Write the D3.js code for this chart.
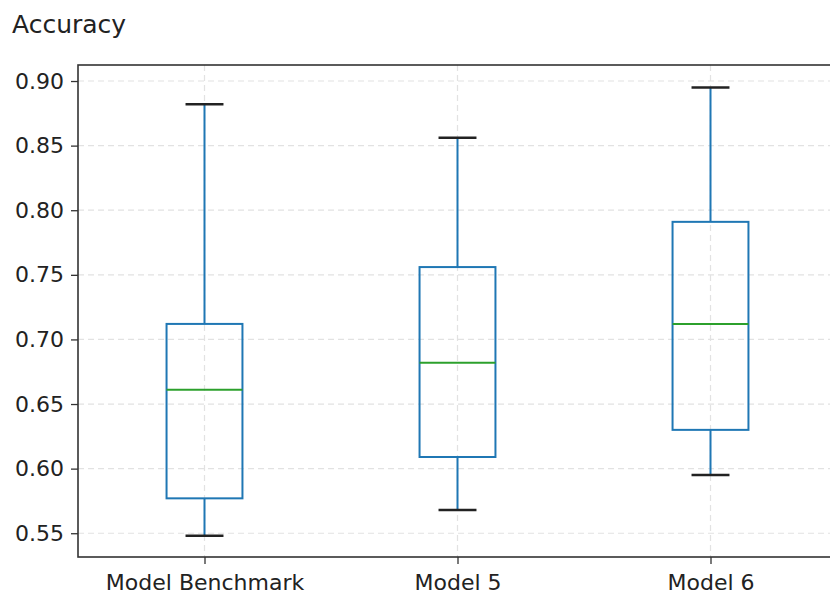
<!DOCTYPE html>
<html><head><meta charset="utf-8">
<script src="https://cdn.jsdelivr.net/npm/d3@7"></script>
<style>
html,body{margin:0;padding:0;background:#fff;overflow:hidden;}
text{font-family:"DejaVu Sans",sans-serif;fill:#222;}
</style></head>
<body>
<svg id="chart" width="830" height="599"></svg>
<script>
const categories = ["Model Benchmark", "Model 5", "Model 6"];
const whiskerLow  = [0.548, 0.568, 0.595];
const q1          = [0.577, 0.609, 0.630];
const median      = [0.661, 0.682, 0.712];
const q3          = [0.712, 0.756, 0.791];
const whiskerHigh = [0.882, 0.856, 0.895];
const yTicks = [0.55, 0.60, 0.65, 0.70, 0.75, 0.80, 0.85, 0.90];

const svg = d3.select("#chart");
const mLeft = 78, mRight = 837, mTop = 65, mBottom = 557;

const x = d3.scaleLinear().domain([0.5, 3.5]).range([mLeft, mRight]);
const y = d3.scaleLinear().domain([0.5316, 0.9124]).range([mBottom, mTop]);
const boxW = x(1.3) - x(1);
const capW = boxW / 2;

// grid
const grid = svg.append("g").attr("stroke", "#e2e2e2").attr("stroke-width", 1.2).attr("stroke-dasharray", "6,4");
yTicks.forEach(t => grid.append("line").attr("x1", mLeft).attr("x2", mRight).attr("y1", y(t)).attr("y2", y(t)));
categories.forEach((c, i) => grid.append("line").attr("x1", x(i + 1)).attr("x2", x(i + 1)).attr("y1", mTop).attr("y2", mBottom));

// boxes
const data = categories.map((c, i) => ({c, i, lo: whiskerLow[i], q1: q1[i], med: median[i], q3: q3[i], hi: whiskerHigh[i]}));
const g = svg.append("g");
data.forEach(d => {
  const cx = x(d.i + 1);
  g.append("line").attr("x1", cx).attr("x2", cx).attr("y1", y(d.q3)).attr("y2", y(d.hi)).attr("stroke", "#1f77b4").attr("stroke-width", 2);
  g.append("line").attr("x1", cx).attr("x2", cx).attr("y1", y(d.q1)).attr("y2", y(d.lo)).attr("stroke", "#1f77b4").attr("stroke-width", 2);
  g.append("rect").attr("x", cx - boxW / 2).attr("width", boxW).attr("y", y(d.q3)).attr("height", y(d.q1) - y(d.q3))
    .attr("fill", "none").attr("stroke", "#1f77b4").attr("stroke-width", 2);
  g.append("line").attr("x1", cx - boxW / 2).attr("x2", cx + boxW / 2).attr("y1", y(d.med)).attr("y2", y(d.med)).attr("stroke", "#2ca02c").attr("stroke-width", 2);
  [d.lo, d.hi].forEach(v => g.append("line").attr("x1", cx - capW / 2).attr("x2", cx + capW / 2).attr("y1", y(v)).attr("y2", y(v)).attr("stroke", "#222").attr("stroke-width", 2.5));
});

// axes
const yAxis = d3.axisLeft(y).tickValues(yTicks).tickFormat(d3.format(".2f")).tickSize(7).tickPadding(7);
const ya = svg.append("g").attr("transform", `translate(${mLeft},0)`).call(yAxis);
ya.select(".domain").remove();
ya.selectAll("line").attr("stroke", "#333").attr("stroke-width", 1.3);
ya.selectAll("text").style("font-size", "22px").attr("fill", "#222");

const xAxis = d3.axisBottom(x).tickValues([1, 2, 3]).tickFormat((d, i) => categories[i]).tickSize(7).tickPadding(10);
const xa = svg.append("g").attr("transform", `translate(0,${mBottom})`).call(xAxis);
xa.select(".domain").remove();
xa.selectAll("line").attr("stroke", "#333").attr("stroke-width", 1.3);
xa.selectAll("text").style("font-size", "22px").attr("fill", "#222");

// spines
svg.append("rect").attr("x", mLeft).attr("y", mTop).attr("width", mRight - mLeft).attr("height", mBottom - mTop)
  .attr("fill", "none").attr("stroke", "#333").attr("stroke-width", 1.6);

svg.append("text").attr("x", 12).attr("y", 33).style("font-size", "25px").text("Accuracy");
</script>
</body></html>
